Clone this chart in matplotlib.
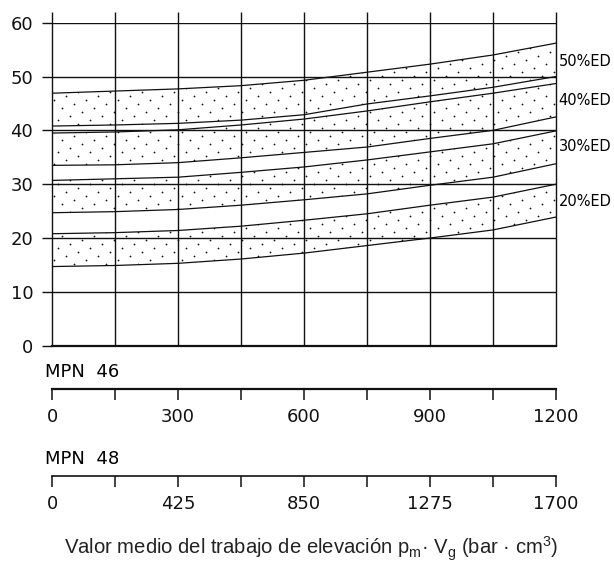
import numpy as np
import matplotlib
matplotlib.use("Agg")
import matplotlib.pyplot as plt
from matplotlib.ticker import MultipleLocator

plt.rcParams['mathtext.fontset'] = 'custom'
plt.rcParams['mathtext.rm'] = 'Liberation Sans'
plt.rcParams['mathtext.it'] = 'Liberation Sans'

# x positions along the MPN 46 scale (bar * cm3)
x = [0, 150, 300, 450, 600, 750, 900, 1050, 1200]

# band edges (upper, lower) for each %ED curve
ed50_hi = [46.9, 47.3, 47.7, 48.3, 49.3, 50.8, 52.3, 54.0, 56.2]
ed50_lo = [40.8, 41.0, 41.3, 41.9, 42.9, 44.9, 46.4, 48.0, 50.0]
ed40_hi = [39.5, 39.7, 40.1, 41.0, 42.1, 43.6, 45.3, 46.9, 48.7]
ed40_lo = [33.5, 33.6, 34.0, 34.9, 35.9, 36.9, 38.5, 40.0, 42.5]
ed30_hi = [30.7, 31.0, 31.3, 32.2, 33.2, 34.5, 36.0, 37.5, 39.9]
ed30_lo = [24.7, 24.9, 25.3, 26.1, 27.1, 28.2, 29.8, 31.3, 33.8]
ed20_hi = [20.8, 21.0, 21.4, 22.2, 23.3, 24.5, 26.1, 27.6, 30.0]
ed20_lo = [14.7, 14.9, 15.3, 16.1, 17.2, 18.6, 20.0, 21.5, 23.9]

band_labels = ['50%ED', '40%ED', '30%ED', '20%ED']
label_y = [52.8, 45.6, 37.0, 26.8]

y_ticks = [0, 10, 20, 30, 40, 50, 60]
mpn46_ticks = [0, 300, 600, 900, 1200]
mpn48_ticks = [0, 425, 850, 1275, 1700]

num_font = dict(family='DejaVu Sans', size=13)
ink = '#111111'

fig = plt.figure(figsize=(6.14, 5.67), dpi=100)

# main chart
ax = fig.add_axes([0.0847, 0.3903, 0.8208, 0.5697])
ax.set_xlim(0, 1200)
ax.set_ylim(0, 60)
for s in ['top', 'right', 'left']:
    ax.spines[s].set_visible(False)
ax.spines['bottom'].set_linewidth(1.6)
ax.spines['bottom'].set_color(ink)

ax.hlines(y_ticks[1:], 0, 1200, color=ink, lw=1.0)
ax.vlines(np.arange(0, 1201, 150), 0, 62, color=ink, lw=1.0, clip_on=False)

ax.set_yticks(y_ticks)
ax.set_yticklabels([str(v) for v in y_ticks], **num_font)
ax.tick_params(axis='y', direction='out', length=7.5, width=1.0, pad=6, colors=ink)
ax.set_xticks([])

# stipple lattice (pixel steps converted to data units), used as a fill texture
px_x = 1200 / 504.0
px_y = 60 / 323.0
ii, jj = np.meshgrid(np.arange(0, 85), np.arange(-45, 20))
dot_x = ((ii * 12 + jj * 32 + 6) * px_x).ravel()
dot_y = ((ii * 4 + 2) * px_y).ravel()
keep = (dot_x > 0) & (dot_x < 1200) & (dot_y > 0) & (dot_y < 60)
dot_x, dot_y = dot_x[keep], dot_y[keep]

bands = [(ed50_hi, ed50_lo), (ed40_hi, ed40_lo), (ed30_hi, ed30_lo), (ed20_hi, ed20_lo)]
for (hi, lo), lab, ly in zip(bands, band_labels, label_y):
    poly = ax.fill_between(x, lo, hi, facecolor='none', lw=0)
    dots = ax.scatter(dot_x, dot_y, s=1.6, color=ink, lw=0)
    dots.set_clip_path(poly.get_paths()[0], ax.transData)
    ax.plot(x, hi, color=ink, lw=0.9)
    ax.plot(x, lo, color=ink, lw=0.9)
    ax.annotate(lab, xy=(1200, ly), xytext=(2, 0), textcoords='offset points',
                va='center', ha='left', annotation_clip=False,
                family='DejaVu Sans', size=10.5)


def scale_axis(ypos, vmax, ticks, lw, title, title_y):
    a = fig.add_axes([0.0847, ypos, 0.8208, 0.0005])
    a.set_xlim(0, vmax)
    a.set_ylim(0, 1)
    for s in ['top', 'right', 'left']:
        a.spines[s].set_visible(False)
    a.spines['bottom'].set_linewidth(lw)
    a.spines['bottom'].set_color(ink)
    a.set_yticks([])
    a.set_xticks(ticks)
    a.set_xticklabels([str(t) for t in ticks], **num_font)
    a.xaxis.set_minor_locator(MultipleLocator(ticks[1] / 2))
    a.tick_params(axis='x', which='both', direction='out', length=8, width=1.1,
                  pad=5.5, colors=ink)
    fig.text(0.073, title_y, title, va='center', ha='left', **num_font)
    return a


scale_axis(0.3139, 1200, mpn46_ticks, 1.6, 'MPN  46', 1 - 372 / 567)
scale_axis(0.1605, 1700, mpn48_ticks, 1.2, 'MPN  48', 1 - 459 / 567)

fig.text(0.507, 1 - 549 / 567,
         r'Valor medio del trabajo de elevación p$_\mathrm{m}$· V$_\mathrm{g}$ (bar · cm$^3$)',
         ha='center', va='center', family='Liberation Sans', size=14.6, color='#222222')

fig.savefig('out.png', dpi=100)
